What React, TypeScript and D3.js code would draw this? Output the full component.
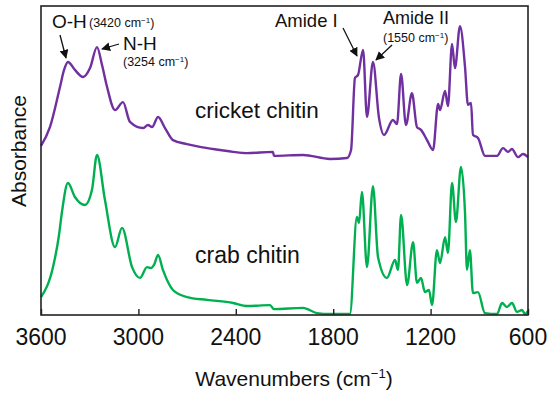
import React, { useEffect, useRef } from 'react';
import * as d3 from 'd3';

// cricket chitin spectrum (wavenumber cm-1, absorbance a.u.)
const cricketWavenumber = [
  3600, 3545, 3483, 3458, 3434, 3391, 3341, 3298, 3255, 3224, 3193, 3144, 3095, 3052,
  2972, 2941, 2916, 2879, 2836, 2787, 2701, 2621, 2497, 2417, 2331, 2171, 2165, 1986,
  1820, 1715, 1690, 1666, 1647, 1616, 1592, 1555, 1518, 1487, 1432, 1407, 1382, 1352,
  1315, 1284, 1259, 1222, 1185, 1154, 1142, 1111, 1093, 1068, 1050, 1019, 988, 970,
  951, 939, 908, 865, 791, 754, 723, 699, 662, 631, 600,
];
const cricketAbsorbance = [
  0.547, 0.608, 0.738, 0.793, 0.819, 0.793, 0.770, 0.799, 0.867, 0.809, 0.738, 0.663, 0.689, 0.625,
  0.605, 0.615, 0.608, 0.641, 0.605, 0.566, 0.553, 0.544, 0.534, 0.528, 0.524, 0.528, 0.515, 0.518,
  0.505, 0.508, 0.534, 0.767, 0.777, 0.858, 0.641, 0.819, 0.638, 0.583, 0.631, 0.618, 0.780, 0.615,
  0.718, 0.608, 0.599, 0.566, 0.534, 0.683, 0.663, 0.725, 0.676, 0.877, 0.799, 0.935, 0.803, 0.680,
  0.686, 0.583, 0.573, 0.515, 0.515, 0.540, 0.528, 0.537, 0.511, 0.521, 0.511,
];

// crab chitin spectrum
const crabWavenumber = [
  3600, 3526, 3489, 3471, 3434, 3391, 3329, 3286, 3255, 3206, 3144, 3101, 3039, 2990,
  2947, 2922, 2904, 2879, 2849, 2787, 2701, 2577, 2417, 2331, 2189, 2165, 1986, 1900,
  1820, 1697, 1654, 1641, 1623, 1592, 1555, 1524, 1469, 1419, 1401, 1382, 1345, 1308,
  1284, 1259, 1235, 1210, 1191, 1161, 1142, 1111, 1093, 1068, 1044, 1013, 988, 976,
  958, 939, 908, 865, 791, 760, 730, 699, 668, 637, 619, 600,
];
const crabAbsorbance = [
  0.058, 0.155, 0.259, 0.333, 0.427, 0.382, 0.356, 0.405, 0.518, 0.372, 0.220, 0.282, 0.155, 0.120,
  0.155, 0.152, 0.162, 0.194, 0.146, 0.081, 0.058, 0.049, 0.039, 0.029, 0.032, 0.019, 0.023, 0.006,
  0.003, 0.003, 0.317, 0.298, 0.398, 0.155, 0.417, 0.188, 0.120, 0.178, 0.146, 0.324, 0.097, 0.236,
  0.104, 0.120, 0.074, 0.081, 0.032, 0.210, 0.168, 0.252, 0.201, 0.427, 0.301, 0.479, 0.330, 0.146,
  0.210, 0.071, 0.074, 0.006, 0.003, 0.039, 0.026, 0.039, 0.010, 0.016, 0.003, 0.013,
];

const xTicks = [3600, 3000, 2400, 1800, 1200, 600];

const App: React.FC = () => {
  const svgRef = useRef<SVGSVGElement>(null);

  useEffect(() => {
    if (!svgRef.current) return;
    const svg = d3.select(svgRef.current);
    svg.selectAll('*').remove();

    const left = 41, right = 528, top = 6, bottom = 315;
    const font = 'Liberation Sans, Arial, sans-serif';

    const x = d3.scaleLinear().domain([3600, 600]).range([left, right]);
    const y = d3.scaleLinear().domain([0, 1]).range([bottom, top]);

    // arrow head
    svg.append('defs').append('marker')
      .attr('id', 'arrow')
      .attr('viewBox', '0 0 10 10')
      .attr('refX', 9).attr('refY', 5)
      .attr('markerWidth', 9).attr('markerHeight', 9)
      .attr('markerUnits', 'userSpaceOnUse')
      .attr('orient', 'auto')
      .append('path')
      .attr('d', 'M0,0 L10,5 L0,10 z')
      .attr('fill', '#111');

    const line = d3.line<[number, number]>()
      .x(d => x(d[0]))
      .y(d => y(d[1]))
      .curve(d3.curveMonotoneX);

    const series = [
      { wn: cricketWavenumber, ab: cricketAbsorbance, color: '#7030A0' },
      { wn: crabWavenumber, ab: crabAbsorbance, color: '#00B050' },
    ];
    series.forEach(s => {
      const pts = s.wn.map((w, i) => [w, s.ab[i]] as [number, number]);
      svg.append('path')
        .datum(pts)
        .attr('fill', 'none')
        .attr('stroke', s.color)
        .attr('stroke-width', 2.4)
        .attr('stroke-linejoin', 'round')
        .attr('d', line);
    });

    // frame
    svg.append('rect')
      .attr('x', left).attr('y', top)
      .attr('width', right - left).attr('height', bottom - top)
      .attr('fill', 'none')
      .attr('stroke', '#222')
      .attr('stroke-width', 1.6);

    // inward ticks + labels
    const axis = svg.append('g').attr('transform', `translate(0,${bottom})`);
    axis.call(d3.axisBottom(x).tickValues(xTicks).tickSizeInner(-6).tickSizeOuter(0).tickPadding(0).tickFormat(() => ''));
    axis.select('.domain').remove();
    axis.selectAll('.tick line').attr('stroke', '#222').attr('stroke-width', 1.4);

    svg.append('g').selectAll('text')
      .data(xTicks)
      .join('text')
      .attr('x', d => x(d))
      .attr('y', 345)
      .attr('text-anchor', 'middle')
      .attr('font-family', font)
      .attr('font-size', 23)
      .attr('fill', '#111')
      .text(d => d);

    // axis titles
    const xt = svg.append('text')
      .attr('x', 294).attr('y', 386)
      .attr('text-anchor', 'middle')
      .attr('font-family', font)
      .attr('font-size', 21)
      .attr('fill', '#111');
    xt.append('tspan').text('Wavenumbers (cm');
    xt.append('tspan').attr('dy', -8).attr('font-size', 13).text('−1');
    xt.append('tspan').attr('dy', 8).text(')');

    svg.append('text')
      .attr('transform', 'translate(26,151) rotate(-90)')
      .attr('text-anchor', 'middle')
      .attr('font-family', font)
      .attr('font-size', 21)
      .attr('fill', '#111')
      .text('Absorbance');

    // sample labels
    const label = (tx: number, ty: number, txt: string, size: number) =>
      svg.append('text')
        .attr('x', tx).attr('y', ty)
        .attr('font-family', font)
        .attr('font-size', size)
        .attr('fill', '#111')
        .text(txt);

    label(195, 118, 'cricket chitin', 22.5);
    label(195, 263, 'crab chitin', 23);

    // band annotations
    const small = (tx: number, ty: number, num: string) => {
      const t = svg.append('text')
        .attr('x', tx).attr('y', ty)
        .attr('font-family', font)
        .attr('font-size', 12.5)
        .attr('fill', '#111');
      t.append('tspan').text(`(${num} cm`);
      t.append('tspan').attr('dy', -4).attr('font-size', 8).text('−1');
      t.append('tspan').attr('dy', 4).text(')');
    };

    label(52, 28, 'O-H', 19);
    small(89, 27, '3420');
    label(123, 50, 'N-H', 19);
    small(123, 66, '3254');
    label(275, 27, 'Amide I', 18.5);
    label(383, 24, 'Amide II', 18);
    small(383, 42, '1550');

    const arrow = (x1: number, y1: number, x2: number, y2: number) =>
      svg.append('line')
        .attr('x1', x1).attr('y1', y1)
        .attr('x2', x2).attr('y2', y2)
        .attr('stroke', '#111')
        .attr('stroke-width', 1.3)
        .attr('marker-end', 'url(#arrow)');

    arrow(60, 35, 66, 58);
    arrow(119, 44, 102, 49);
    arrow(343, 28, 357, 56);
    arrow(392, 45, 376, 60);
  }, []);

  return (
    <svg
      ref={svgRef}
      width={550}
      height={398}
      style={{ position: 'absolute', left: 0, top: 0, background: '#fff' }}
    />
  );
};

export default App;
